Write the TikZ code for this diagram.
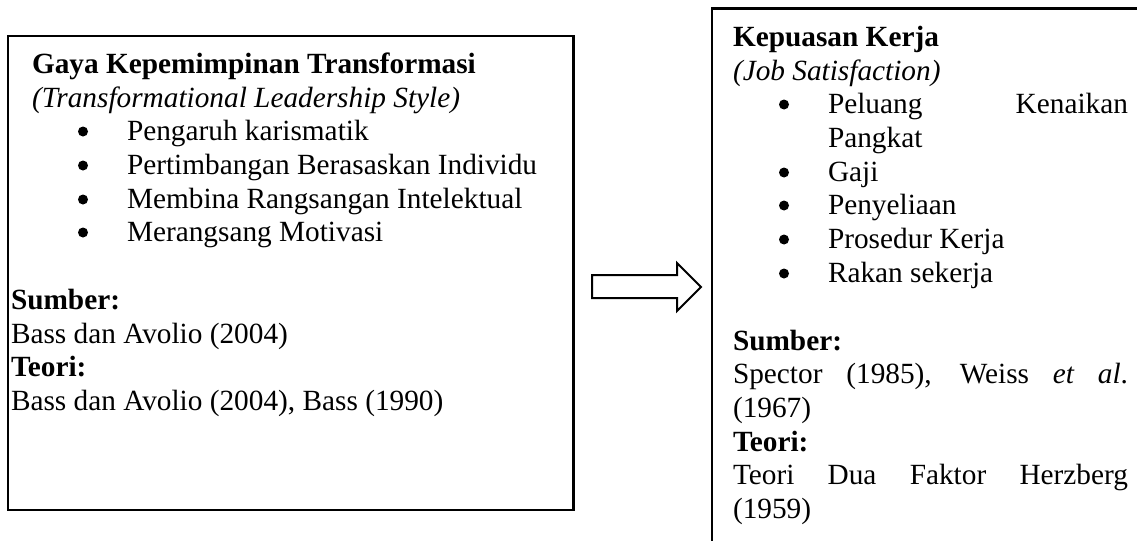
\documentclass[tikz,border=0pt]{standalone}
\usepackage{fontspec}
\setmainfont{Liberation Serif}
\begin{document}
\begin{tikzpicture}[x=1pt,y=-1pt,
  txt/.style={inner sep=0pt, outer sep=0pt, anchor=base west, font=\fontsize{29.3}{33.7}\selectfont},
  frame/.style={line width=2.6pt},
  dot/.style={fill=black},
  blockarrow/.style={draw=black, line width=2pt, fill=white, line join=miter}]
\useasboundingbox (0,0) rectangle (1137,541);
% left box
\draw[frame] (8,36) rectangle (573.5,510);
\node[txt] (lh) at (32,73) {\textbf{Gaya Kepemimpinan Transformasi}};
\node[txt] (ls) at (32,107) {\textit{(Transformational Leadership Style)}};
\node[txt] (l1) at (127,140) {Pengaruh karismatik};
\node[txt] (l2) at (127,174) {Pertimbangan Berasaskan Individu};
\node[txt] (l3) at (127,208) {Membina Rangsangan Intelektual};
\node[txt] (l4) at (127,241) {Merangsang Motivasi};
\foreach \b in {140,174,208,241} \fill[dot] (83,\b-8.5) circle (5);
\node[txt] (lsum) at (11,309) {\textbf{Sumber:}};
\node[txt] (lsumt) at (11,343) {Bass dan Avolio (2004)};
\node[txt] (lteo) at (11,376) {\textbf{Teori:}};
\node[txt] (lteot) at (11,410) {Bass dan Avolio (2004), Bass (1990)};
% arrow
\draw[blockarrow] (592,275) -- (677,275) -- (677,263) -- (701,287) -- (677,311) -- (677,298) -- (592,298) -- cycle;
% right box (cropped)
\draw[frame] (1137,8.5) -- (712,8.5) -- (712,541);
\node[txt] (rh) at (733,46) {\textbf{Kepuasan Kerja}};
\node[txt] (rs) at (733,80) {\textit{(Job Satisfaction)}};
\node[txt] (r1) at (828,113) {\makebox[300pt][s]{Peluang Kenaikan}};
\node[txt] (r1b) at (828,147) {Pangkat};
\node[txt] (r2) at (828,181) {Gaji};
\node[txt] (r3) at (828,214) {Penyeliaan};
\node[txt] (r4) at (828,248) {Prosedur Kerja};
\node[txt] (r5) at (828,282) {Rakan sekerja};
\foreach \b in {113,181,214,248,282} \fill[dot] (784,\b-8.5) circle (5);
\node[txt] (rsum) at (733,350) {\textbf{Sumber:}};
\node[txt] (rsumt) at (733,383) {\makebox[395pt][s]{Spector (1985), Weiss \textit{et al}.}};
\node[txt] (rsumt2) at (733,417) {(1967)};
\node[txt] (rteo) at (733,451) {\textbf{Teori:}};
\node[txt] (rteot) at (733,484) {\makebox[395pt][s]{Teori Dua Faktor Herzberg}};
\node[txt] (rteot2) at (733,518) {(1959)};
\end{tikzpicture}
\end{document}
